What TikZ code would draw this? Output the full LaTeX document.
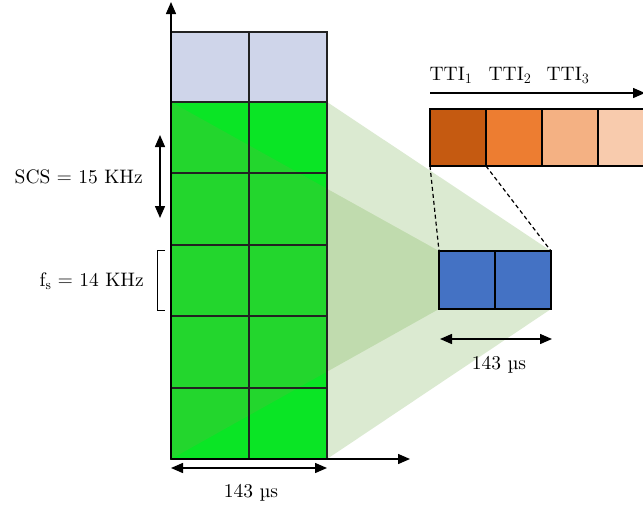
\documentclass[tikz,border=0pt]{standalone}
\usepackage{fontspec}
\setmainfont{lmroman10-regular}[Extension=.otf]
\usetikzlibrary{arrows.meta}
\definecolor{lav}{HTML}{CFD5EA}
\definecolor{brightgreen}{HTML}{0AE525}
\definecolor{beam}{HTML}{70AD47}
\definecolor{blk}{HTML}{4472C4}
\definecolor{or1}{HTML}{C55A11}
\definecolor{or2}{HTML}{ED7D31}
\definecolor{or3}{HTML}{F4B183}
\definecolor{or4}{HTML}{F8CBAD}
\definecolor{gridline}{HTML}{222222}
\tikzset{
  cellbox/.style={draw=gridline, line width=2pt, inner sep=0pt, outer sep=0pt,
    minimum width=78pt},
  smallcell/.style={draw=black, line width=2pt, inner sep=0pt, outer sep=0pt,
    minimum width=56pt, minimum height=58pt},
  ttcell/.style={draw=black, line width=2pt, inner sep=0pt, outer sep=0pt,
    minimum width=56pt, minimum height=57pt},
  beamfill/.style={fill=beam, fill opacity=0.25},
  axis/.style={line width=1.4pt, -{Triangle[length=12pt,width=10pt]}},
  dimarrow/.style={line width=1.4pt, {Triangle[length=12pt,width=10pt]}-{Triangle[length=12pt,width=10pt]}},
  lbl/.style={font=\fontsize{19.5}{23}\selectfont, inner sep=0pt},
}
\begin{document}
\begin{tikzpicture}[x=1pt,y=-1pt]
\useasboundingbox (0,0) rectangle (643,512);
\clip (0,0) rectangle (643,512);

% resource grid: one control row and five data rows, two symbols wide
\foreach \c/\x in {1/210,2/288}{
  \node[cellbox, fill=lav, minimum height=70pt] (t\c) at (\x,67) {};
  \foreach \r/\ya/\yb in {1/102/173,2/173/245,3/245/316,4/316/388,5/388/459}{
    \node[cellbox, fill=brightgreen, minimum height={\yb-\ya}] (c\r\c) at (\x,{(\ya+\yb)/2}) {};
  }
}

% mini-slot block
\node[smallcell, fill=blk] (b1) at (467,280) {};
\node[smallcell, fill=blk] (b2) at (523,280) {};

% projection beams from the grid onto the mini-slot
\fill[beamfill] (c11.north west) -- (b1.north west) -- (b1.south west) -- (c51.south west) -- cycle;
\fill[beamfill] (c12.north east) -- (b2.north east) -- (b2.south east) -- (c52.south east) -- cycle;

% redraw grid and block outlines above the beams
\foreach \c in {1,2}{
  \draw[gridline, line width=2pt] (t\c.north west) rectangle (t\c.south east);
  \foreach \r in {1,...,5}{
    \draw[gridline, line width=2pt] (c\r\c.north west) rectangle (c\r\c.south east);
  }
}
\node[smallcell, fill=blk] at (b1) {};
\node[smallcell, fill=blk] at (b2) {};

% TTI row
\node[ttcell, fill=or1] (o1) at (458,137.5) {};
\node[ttcell, fill=or2] (o2) at (514,137.5) {};
\node[ttcell, fill=or3] (o3) at (570,137.5) {};
\node[ttcell, fill=or4] (o4) at (626,137.5) {};

\draw[line width=1.2pt, dash pattern=on 4pt off 3pt] (o1.south west) -- (b1.north west);
\draw[line width=1.2pt, dash pattern=on 4pt off 3pt] (o1.south east) -- (b2.north east);

% time axis for the TTIs
\coordinate (ttiS) at (430,93);
\coordinate (ttiE) at (645,93);
\draw[axis] (ttiS) -- (ttiE);
\node[lbl] (tti1) at (451,75) {TTI$_1$};
\node[lbl] (tti2) at (510,75) {TTI$_2$};
\node[lbl] (tti3) at (568,75) {TTI$_3$};

% frequency/time axes of the grid
\coordinate (org) at (171,459);
\coordinate (ytop) at (171,2);
\coordinate (xend) at (410,459);
\draw[axis] (org) -- (ytop);
\draw[axis] (org) -- (xend);

% symbol duration under the grid
\coordinate (dl) at (171,468);
\coordinate (dr) at (327,468);
\draw[dimarrow] (dl) -- (dr);
\node[lbl] (dur1) at (251,493) {143 µs};

% symbol duration under the mini-slot
\coordinate (bl) at (440,339);
\coordinate (br) at (552,339);
\draw[dimarrow] (bl) -- (br);
\node[lbl] (dur2) at (499,365) {143 µs};

% subcarrier spacing
\coordinate (scsT) at (160,135);
\coordinate (scsB) at (160,218);
\draw[dimarrow] (scsT) -- (scsB);
\node[lbl, anchor=east] (scs) at (143,177) {SCS $=$ 15 KHz};

% sampling bracket
\coordinate (k1) at (165,250);
\coordinate (k2) at (157,250);
\coordinate (k3) at (157,310);
\coordinate (k4) at (165,310);
\draw[line width=0.8pt] (k1) -- (k2) -- (k3) -- (k4);
\node[lbl, anchor=east] (fs) at (144,281) {f$_\mathrm{s}$ $=$ 14 KHz};
\end{tikzpicture}
\end{document}
